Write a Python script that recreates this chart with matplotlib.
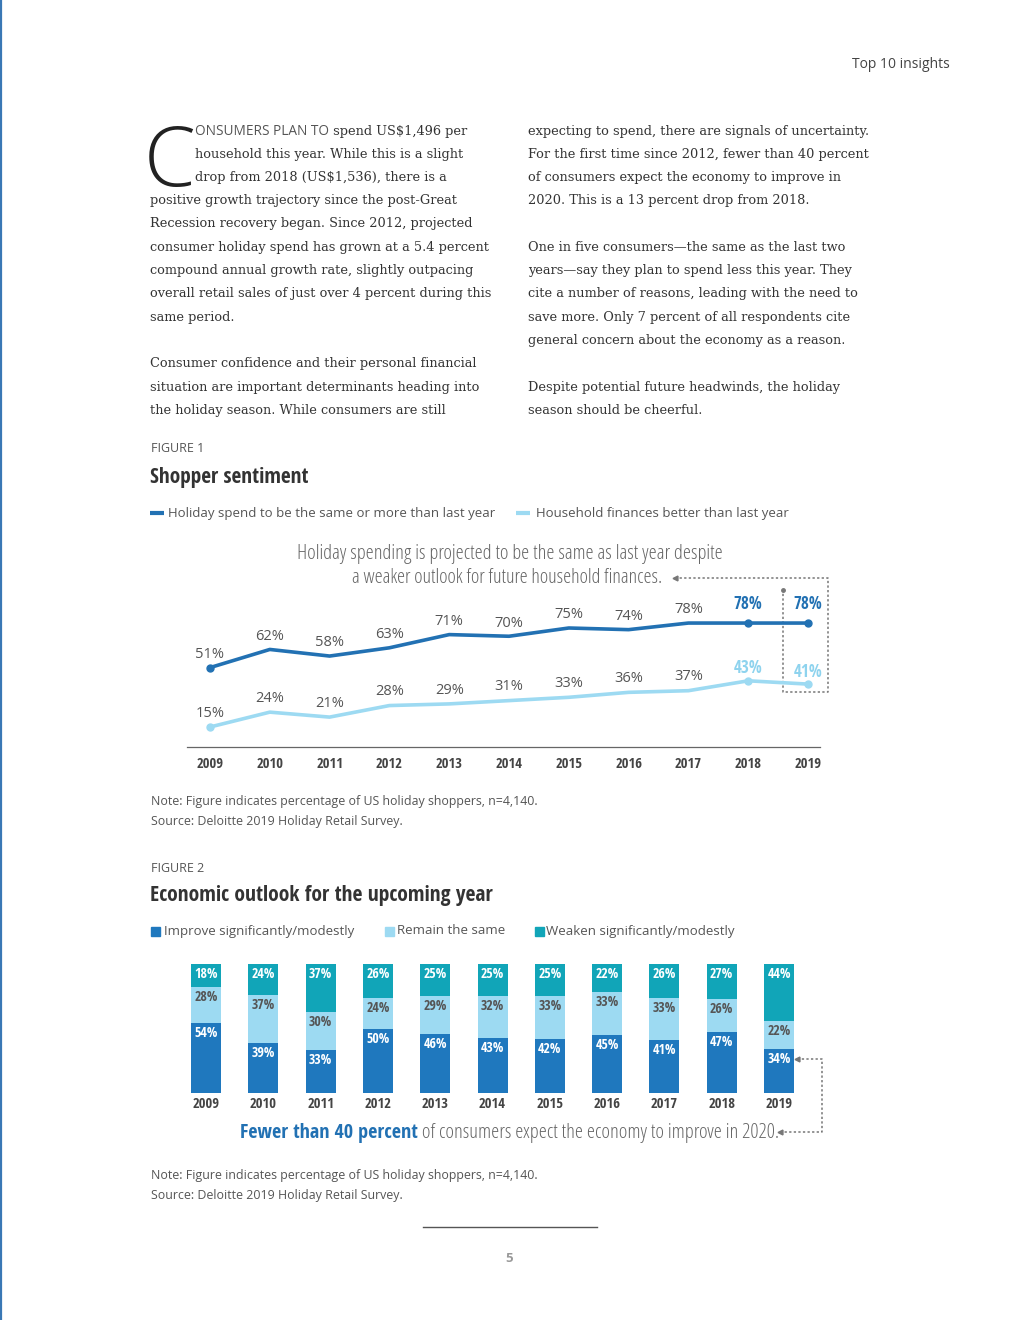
import matplotlib
matplotlib.use('Agg')
import matplotlib.pyplot as plt
from matplotlib import font_manager as fm
from matplotlib.font_manager import FontProperties
from matplotlib.patches import Rectangle
import numpy as np

# ---------------- data ----------------
years = [2009, 2010, 2011, 2012, 2013, 2014, 2015, 2016, 2017, 2018, 2019]
year_labels = [str(y) for y in years]
spend_same_or_more = [51, 62, 58, 63, 71, 70, 75, 74, 78, 78, 78]
finances_better = [15, 24, 21, 28, 29, 31, 33, 36, 37, 43, 41]
improve = [54, 39, 33, 50, 46, 43, 42, 45, 41, 47, 34]
remain = [28, 37, 30, 24, 29, 32, 33, 33, 33, 26, 22]
weaken = [18, 24, 37, 26, 25, 25, 25, 22, 26, 27, 44]

# ---------------- fonts ----------------
avail = {f.name for f in fm.fontManager.ttflist}
def pick(*names):
    for n in names:
        if n in avail:
            return n
    return 'DejaVu Sans'

SANS = pick('Open Sans', 'Noto Sans', 'Lato', 'DejaVu Sans')
SERIF = pick('DejaVu Serif', 'Liberation Serif')

def wnum(w):
    if isinstance(w, str):
        return fm.weight_dict.get(w, 400)
    return int(w)

def snum(s):
    if isinstance(s, str):
        return fm.stretch_dict.get(s, 500)
    return int(s)

cond_entries = [f for f in fm.fontManager.ttflist
                if f.style == 'normal' and ('condensed' in f.name.lower() or 'narrow' in f.name.lower()
                                            or snum(f.stretch) <= 400)]
pref = ['open sans', 'roboto', 'noto sans', 'lato', 'liberation sans', 'dejavu sans']

def cond_fp(weight, size):
    chosen = None
    for p in pref:
        cands = [f for f in cond_entries if f.name.lower().startswith(p)]
        if cands:
            b = min(cands, key=lambda f: abs(wnum(f.weight) - weight))
            if abs(wnum(b.weight) - weight) <= 100:
                chosen = b
                break
    if chosen is None and cond_entries:
        chosen = min(cond_entries, key=lambda f: abs(wnum(f.weight) - weight))
    if chosen is None:
        return FontProperties(family='DejaVu Sans', weight=weight, size=size)
    return FontProperties(fname=chosen.fname, size=size)

BLUE = '#2271B3'
LBLUE = '#9DDAF2'
TEAL = '#11A5B8'
BARBLUE = '#1F78BE'
GRAY = '#555555'
DARK = '#333333'

W, H = 1020, 1320
fig = plt.figure(figsize=(W / 100, H / 100), dpi=100)
fig.patch.set_facecolor('white')
ov = fig.add_axes([0, 0, 1, 1])
ov.set_xlim(0, W)
ov.set_ylim(H, 0)
ov.axis('off')
renderer = fig.canvas.get_renderer()

def frac(x0, y0, x1, y1):
    return [x0 / W, 1 - y1 / H, (x1 - x0) / W, (y1 - y0) / H]

def right_px(t):
    return t.get_window_extent(renderer).x1

def fit(x, y, s, target_w, fp, **kw):
    t = ov.text(x, y, s, fontproperties=fp, **kw)
    w = t.get_window_extent(renderer).width
    fp2 = fp.copy()
    fp2.set_size(fp.get_size() * target_w / w)
    t.set_fontproperties(fp2)
    return t

# page decoration
ov.plot([1, 1], [0, H], color='#3A78B5', lw=1.6)
ov.text(950, 65, 'Top 10 insights', ha='right', va='center', fontsize=10,
        family=SANS, color='#444444')

# ---------------- body text ----------------
BODY = 9.3
ov.text(144, 186, 'C', family=SANS, weight='light', fontsize=60, color='#222222',
        va='baseline', ha='left')
t = ov.text(195, 135, 'ONSUMERS PLAN TO', fontsize=9.8, family=SANS, color='#555555',
            va='baseline')
ov.text(right_px(t), 135, ' spend US$1,496 per', fontsize=BODY, family=SERIF,
        color='#333333', va='baseline')

left_lines = [
    (195, 158, 'household this year. While this is a slight'),
    (195, 181, 'drop from 2018 (US$1,536), there is a'),
    (150, 204, 'positive growth trajectory since the post-Great'),
    (150, 227, 'Recession recovery began. Since 2012, projected'),
    (150, 251, 'consumer holiday spend has grown at a 5.4 percent'),
    (150, 274, 'compound annual growth rate, slightly outpacing'),
    (150, 297, 'overall retail sales of just over 4 percent during this'),
    (150, 321, 'same period.'),
    (150, 367, 'Consumer confidence and their personal financial'),
    (150, 391, 'situation are important determinants heading into'),
    (150, 414, 'the holiday season. While consumers are still'),
]
right_lines = [
    (528, 135, 'expecting to spend, there are signals of uncertainty.'),
    (528, 158, 'For the first time since 2012, fewer than 40 percent'),
    (528, 181, 'of consumers expect the economy to improve in'),
    (528, 204, '2020. This is a 13 percent drop from 2018.'),
    (528, 251, 'One in five consumers\u2014the same as the last two'),
    (528, 274, 'years\u2014say they plan to spend less this year. They'),
    (528, 297, 'cite a number of reasons, leading with the need to'),
    (528, 321, 'save more. Only 7 percent of all respondents cite'),
    (528, 344, 'general concern about the economy as a reason.'),
    (528, 391, 'Despite potential future headwinds, the holiday'),
    (528, 414, 'season should be cheerful.'),
]
for x, y, s in left_lines + right_lines:
    ov.text(x, y, s, fontsize=BODY, family=SERIF, color='#333333', va='baseline')

# ---------------- figure 1 header ----------------
ov.text(151, 449, 'FIGURE 1', fontsize=9, family=SANS, color=GRAY, va='center')
ov.text(150, 477, 'Shopper sentiment', fontproperties=cond_fp(700, 15.4),
        color=DARK, va='center')
ov.plot([150, 164], [513, 513], color=BLUE, lw=3, solid_capstyle='butt')
ov.text(168, 513, 'Holiday spend to be the same or more than last year', fontsize=9.5,
        family=SANS, color=GRAY, va='center')
ov.plot([516, 530], [513, 513], color=LBLUE, lw=3, solid_capstyle='butt')
ov.text(536, 513, 'Household finances better than last year', fontsize=9.5,
        family=SANS, color=GRAY, va='center')

ann_fp = cond_fp(300, 14)
fit(297, 554, 'Holiday spending is projected to be the same as last year despite', 426,
    ann_fp, color='#666666', ha='left', va='center')
fit(352, 578, 'a weaker outlook for future household finances.', 315,
    ann_fp, color='#666666', ha='left', va='center')

# connector + dashed box
dash = dict(color='#777777', lw=1.1, ls=(0, (1.5, 1.5)))
ov.plot([675, 828, 828, 783, 783], [578, 578, 692, 692, 590], **dash)
ov.plot([675], [578], marker='<', ms=3.5, color='#777777')
ov.plot([783], [590], marker='o', ms=2.5, color='#777777')

# ---------------- figure 1 line chart ----------------
x0px, x1px = 187, 820
ytop, ybot = 590, 747
step = (808 - 210) / 10
s = 1.65
ax1 = fig.add_axes(frac(x0px, ytop, x1px, ybot))
ax1.set_xlim(2009 - (210 - x0px) / step, 2019 + (x1px - 808) / step)
ax1.set_ylim(15 - (ybot - 727) / s, 15 + (727 - ytop) / s)
ax1.patch.set_alpha(0)
ax1.plot(years, finances_better, color=LBLUE, lw=2.6, marker='o', ms=5,
         markevery=[0, 9, 10], solid_joinstyle='round')
ax1.plot(years, spend_same_or_more, color=BLUE, lw=2.6, marker='o', ms=5,
         markevery=[0, 9, 10], solid_joinstyle='round')
for sp in ['top', 'left', 'right']:
    ax1.spines[sp].set_visible(False)
ax1.spines['bottom'].set_color('#666666')
ax1.spines['bottom'].set_linewidth(0.9)
ax1.set_yticks([])
ax1.set_xticks(years)
year_fp = cond_fp(700, 10.5)
ax1.set_xticklabels(year_labels, fontproperties=year_fp, color='#444444')
ax1.tick_params(axis='x', length=0, pad=7)

lab_bold = cond_fp(700, 12.3)
for i, (yr, v) in enumerate(zip(years, spend_same_or_more)):
    if i >= 9:
        ax1.annotate(f'{v}%', (yr, v), xytext=(0, 13.5), textcoords='offset points',
                     ha='center', va='center', fontproperties=lab_bold, color=BLUE)
    else:
        ax1.annotate(f'{v}%', (yr, v), xytext=(0, 9.5), textcoords='offset points',
                     ha='center', va='center', family=SANS, fontsize=10.5, color=GRAY)
for i, (yr, v) in enumerate(zip(years, finances_better)):
    if i >= 9:
        ax1.annotate(f'{v}%', (yr, v), xytext=(0, 9), textcoords='offset points',
                     ha='center', va='center', fontproperties=lab_bold, color='#8ED3EE')
    else:
        ax1.annotate(f'{v}%', (yr, v), xytext=(0, 10), textcoords='offset points',
                     ha='center', va='center', family=SANS, fontsize=10.5, color=GRAY)

# notes
for y, txt in [(802, 'Note: Figure indicates percentage of US holiday shoppers, n=4,140.'),
               (822, 'Source: Deloitte 2019 Holiday Retail Survey.')]:
    ov.text(151, y, txt, fontsize=8.9, family=SANS, color=GRAY, va='center')

# ---------------- figure 2 header ----------------
ov.text(151, 868, 'FIGURE 2', fontsize=9, family=SANS, color=GRAY, va='center')
ov.text(150, 896, 'Economic outlook for the upcoming year', fontproperties=cond_fp(700, 15.5),
        color=DARK, va='center')
for (sx, tx, col, lab) in [(151, 164, BARBLUE, 'Improve significantly/modestly'),
                           (385, 397, LBLUE, 'Remain the same'),
                           (535, 546, TEAL, 'Weaken significantly/modestly')]:
    ov.add_patch(Rectangle((sx, 927), 9, 9, color=col))
    ov.text(tx, 931, lab, fontsize=9.5, family=SANS, color=GRAY, va='center')

# ---------------- figure 2 stacked bars ----------------
bx0, bx1 = 180, 810
btop, bbot = 964, 1093
bstep = (779 - 206) / 10
ax2 = fig.add_axes(frac(bx0, btop, bx1, bbot))
ax2.set_xlim(-(206 - bx0) / bstep, 10 + (bx1 - 779) / bstep)
ax2.set_ylim(0, 100)
ax2.patch.set_alpha(0)
xi = np.arange(len(years))
imp = np.array(improve)
rem = np.array(remain)
wea = np.array(weaken)
bw = 30 / bstep
ax2.bar(xi, imp, width=bw, color=BARBLUE)
ax2.bar(xi, rem, width=bw, bottom=imp, color=LBLUE)
ax2.bar(xi, wea, width=bw, bottom=imp + rem, color=TEAL)
for sp in ax2.spines.values():
    sp.set_visible(False)
ax2.set_yticks([])
ax2.set_xticks(xi)
ax2.set_xticklabels(year_labels, fontproperties=year_fp, color='#444444')
ax2.tick_params(axis='x', length=0, pad=3)
seg_fp = cond_fp(600, 10)
for i in xi:
    for top, v, col in [(imp[i], imp[i], 'white'),
                        (imp[i] + rem[i], rem[i], GRAY),
                        (imp[i] + rem[i] + wea[i], wea[i], 'white')]:
        ax2.annotate(f'{v}%', (i, top), xytext=(0, -2.2), textcoords='offset points',
                     ha='center', va='top', fontproperties=seg_fp, color=col)

# annotation under bars
t1 = fit(240, 1133, 'Fewer than 40 percent', 179, cond_fp(700, 14), color=BLUE, va='center')
xr = right_px(t1)
fit(xr, 1133, ' of consumers expect the economy to improve in 2020.', 778 - xr,
    cond_fp(300, 14), color='#666666', va='center')
ov.plot([780, 822, 822, 797], [1132, 1132, 1059, 1059], **dash)
ov.plot([780], [1132], marker='<', ms=3.5, color='#777777')
ov.plot([797], [1059], marker='<', ms=3.5, color='#777777')

for y, txt in [(1175, 'Note: Figure indicates percentage of US holiday shoppers, n=4,140.'),
               (1195, 'Source: Deloitte 2019 Holiday Retail Survey.')]:
    ov.text(151, y, txt, fontsize=8.9, family=SANS, color=GRAY, va='center')

# footer
ov.plot([423, 597], [1227, 1227], color='#555555', lw=1)
ov.text(509, 1258, '5', fontsize=9.5, family=SANS, weight='bold', color='#999999',
        ha='center', va='center')

fig.savefig('out.png', dpi=100)
